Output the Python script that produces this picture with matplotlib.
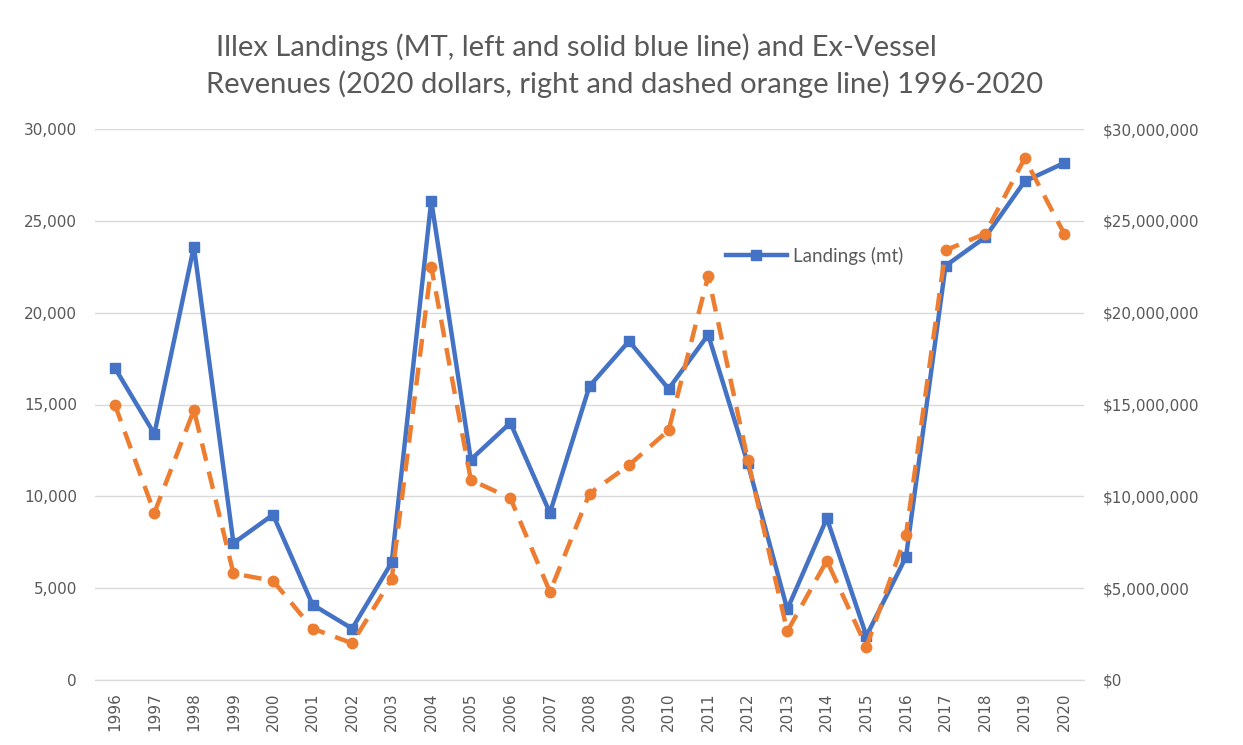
import matplotlib
matplotlib.use("Agg")
import matplotlib.pyplot as plt
from matplotlib.ticker import FuncFormatter, MultipleLocator

# Illex landings (mt) and ex-vessel revenues (2020 dollars), 1996-2020
years = list(range(1996, 2021))
landings_mt = [17000, 13400, 23600, 7450, 9000, 4100, 2800, 6400,
               26100, 12000, 14000, 9100, 16000, 18450, 15850, 18800,
               11800, 3850, 8800, 2400, 6700, 22550, 24100, 27150, 28150]
revenue_usd = [15.0e6, 9.1e6, 14.7e6, 5.8e6, 5.4e6, 2.8e6, 2.0e6, 5.5e6,
               22.5e6, 10.9e6, 9.9e6, 4.8e6, 10.15e6, 11.7e6, 13.6e6, 22.0e6,
               12.0e6, 2.65e6, 6.5e6, 1.8e6, 7.9e6, 23.4e6, 24.3e6, 28.4e6, 24.3e6]

BLUE = "#4472C4"
ORANGE = "#ED7D31"
GREY_TXT = "#595959"
GRID = "#D9D9D9"

fig = plt.figure(figsize=(12.43, 7.45), dpi=100)
ax = fig.add_axes([95 / 1243, 1 - 680 / 745, (1084 - 95) / 1243, (680 - 129) / 745])
ax2 = ax.twinx()

ax.plot(years, landings_mt, color=BLUE, lw=3.2, marker="s", ms=7.5,
        label="Landings (mt)", zorder=3)
ax2.plot(years, revenue_usd, color=ORANGE, lw=3.2, marker="o", ms=7.5,
         dashes=(4, 2.5), zorder=3)

ax.set_xlim(1995.5, 2020.5)
ax.set_ylim(0, 30000)
ax2.set_ylim(0, 30e6)
ax.yaxis.set_major_locator(MultipleLocator(5000))
ax2.yaxis.set_major_locator(MultipleLocator(5e6))
ax.yaxis.set_major_formatter(FuncFormatter(lambda v, p: f"{v:,.0f}"))
ax2.yaxis.set_major_formatter(FuncFormatter(lambda v, p: f"${v:,.0f}"))
ax.set_xticks(years)
ax.set_xticklabels([str(y) for y in years], rotation=90)

ax.grid(axis="y", color=GRID, lw=1)
ax.set_axisbelow(True)
for a in (ax, ax2):
    for s in ("top", "left", "right"):
        a.spines[s].set_visible(False)
    a.spines["bottom"].set_color(GRID)
    a.tick_params(length=0, colors=GREY_TXT, labelsize=11)
ax.tick_params(axis="y", pad=13)
ax2.tick_params(axis="y", pad=13.5)
ax.tick_params(axis="x", pad=9)

fig.text(576 / 1243, 1 - 47 / 745,
         "Illex Landings (MT, left and solid blue line) and Ex-Vessel",
         ha="center", va="center", fontsize=21, color=GREY_TXT, family="Lato")
fig.text(625 / 1243, 1 - 84 / 745,
         "Revenues (2020 dollars, right and dashed orange line) 1996-2020",
         ha="center", va="center", fontsize=21, color=GREY_TXT, family="Lato")

fig.legend(loc="center left", bbox_to_anchor=(726 / 1243, 1 - 256 / 745),
           frameon=False, borderpad=0, borderaxespad=0, handlelength=3.25,
           handletextpad=0.3, prop={"family": "Lato", "size": 13.5},
           labelcolor=GREY_TXT)

plt.savefig("out.png", dpi=100)
plt.close()
